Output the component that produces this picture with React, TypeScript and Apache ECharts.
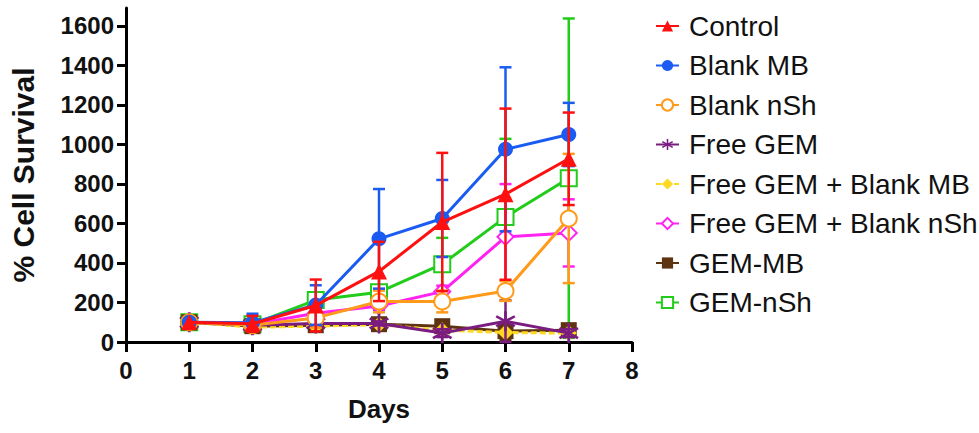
import React, { useEffect, useRef } from "react";
import * as echarts from "echarts";

const days = [1, 2, 3, 4, 5, 6, 7];
const yTicks = [0, 200, 400, 600, 800, 1000, 1200, 1400, 1600];

const controlMean = [100, 92, 185, 357, 607, 748, 927];
const controlSD = [0, 40, 131, 150, 350, 433, 234];
const blankMBMean = [100, 98, 187, 522, 625, 975, 1050];
const blankMBSD = [0, 45, 100, 252, 195, 415, 160];
const blankNShMean = [100, 85, 122, 205, 205, 258, 625];
const blankNShSD = [0, 20, 50, 55, 55, 50, 327];
const freeGEMMean = [100, 85, 94, 94, 45, 105, 45];
const freeGEMSD = [0, 10, 10, 10, 20, 105, 20];
const freeGEMBlankMBMean = [100, 75, 80, 88, 60, 48, 45];
const freeGEMBlankMBSD = [0, 0, 0, 0, 0, 0, 0];
const freeGEMBlankNShMean = [100, 90, 145, 182, 255, 532, 552];
const freeGEMBlankNShSD = [0, 10, 20, 20, 30, 267, 170];
const gemMBMean = [100, 80, 85, 90, 80, 55, 60];
const gemMBSD = [0, 10, 10, 10, 10, 45, 10];
const gemNShMean = [100, 90, 212, 252, 394, 632, 829];
const gemNShSD = [0, 15, 30, 30, 133, 396, 808];

const asterisk =
  "path://M-1.3,-10L1.3,-10L1.3,10L-1.3,10Z" +
  "M-9.3,-3.9L-8,-6.1L9.3,3.9L8,6.1Z" +
  "M8,-6.1L9.3,-3.9L-8,6.1L-9.3,3.9Z";

const groups = [
  { name: "Control", mean: controlMean, sd: controlSD, color: "#FF1010", symbol: "triangle", size: 16, empty: false, dashed: false },
  { name: "Blank MB", mean: blankMBMean, sd: blankMBSD, color: "#1A5CF2", symbol: "circle", size: 15, empty: false, dashed: false },
  { name: "Blank nSh", mean: blankNShMean, sd: blankNShSD, color: "#FF9A1A", symbol: "emptyCircle", size: 16, empty: true, dashed: false },
  { name: "Free GEM", mean: freeGEMMean, sd: freeGEMSD, color: "#7B1C80", symbol: asterisk, size: 20, empty: false, dashed: false },
  { name: "Free GEM + Blank MB", mean: freeGEMBlankMBMean, sd: freeGEMBlankMBSD, color: "#FFD820", symbol: "diamond", size: 16, empty: false, dashed: true },
  { name: "Free GEM + Blank nSh", mean: freeGEMBlankNShMean, sd: freeGEMBlankNShSD, color: "#FF22F0", symbol: "emptyDiamond", size: 16, empty: true, dashed: false },
  { name: "GEM-MB", mean: gemMBMean, sd: gemMBSD, color: "#5E3310", symbol: "rect", size: 16, empty: false, dashed: false },
  { name: "GEM-nSh", mean: gemNShMean, sd: gemNShSD, color: "#22CC1A", symbol: "emptyRect", size: 16, empty: true, dashed: false },
];

const FONT = "'Liberation Sans', Arial, Helvetica, sans-serif";

function buildOption() {
  const n = groups.length;
  const series: any[] = [];
  groups.forEach((g, i) => {
    const zBase = 10 + (n - i) * 3;
    const errData = days
      .map((d, k) => [d, g.mean[k] - g.sd[k], g.mean[k] + g.sd[k], g.sd[k]])
      .filter((r) => r[3] > 0)
      .map((r) => [r[0], Math.max(r[1], 0), r[2]]);
    series.push({
      name: g.name + " SD",
      type: "custom",
      z: zBase,
      silent: true,
      encode: { x: 0, y: [1, 2] },
      data: errData,
      renderItem: (params: any, api: any) => {
        const x = api.value(0);
        const lo = api.coord([x, api.value(1)]);
        const hi = api.coord([x, api.value(2)]);
        const hw = 6;
        const style = { stroke: g.color, lineWidth: 2.5 };
        return {
          type: "group",
          children: [
            { type: "line", shape: { x1: hi[0], y1: hi[1], x2: lo[0], y2: lo[1] }, style },
            { type: "line", shape: { x1: hi[0] - hw, y1: hi[1], x2: hi[0] + hw, y2: hi[1] }, style },
            { type: "line", shape: { x1: lo[0] - hw, y1: lo[1], x2: lo[0] + hw, y2: lo[1] }, style },
          ],
        };
      },
    });
    series.push({
      name: g.name,
      type: "line",
      z: zBase + 1,
      data: days.map((d, k) => [d, g.mean[k]]),
      symbol: g.symbol,
      symbolSize: g.size,
      showSymbol: true,
      lineStyle: { color: g.color, width: 3, type: g.dashed ? [6, 3] : "solid" },
      itemStyle: g.empty
        ? { color: g.color, borderColor: g.color, borderWidth: 2.8 }
        : { color: g.color, borderWidth: 0 },
    });
  });

  return {
    animation: false,
    backgroundColor: "#ffffff",
    textStyle: { fontFamily: FONT },
    grid: { left: 126, right: 347, top: 8, bottom: 91, containLabel: false, outerBoundsMode: "none" },
    legend: {
      orient: "vertical",
      left: 650,
      top: 7,
      itemWidth: 23,
      itemHeight: 14,
      itemGap: 11.5,
      data: groups.map((g) => g.name),
      textStyle: { fontFamily: FONT, fontSize: 28, color: "#111", lineHeight: 28, padding: [0, 0, 0, 5] },
      selectedMode: false,
    },
    xAxis: {
      type: "value",
      min: 0,
      max: 8,
      interval: 1,
      name: "Days",
      nameLocation: "middle",
      nameGap: 54,
      nameTextStyle: { fontFamily: FONT, fontSize: 26, fontWeight: "bold", color: "#111" },
      axisLine: { show: true, onZero: false, lineStyle: { color: "#000", width: 3 } },
      axisTick: { show: true, inside: false, length: 10, lineStyle: { color: "#000", width: 3 } },
      axisLabel: { fontFamily: FONT, fontSize: 24, fontWeight: "bold", color: "#111", margin: 16 },
      splitLine: { show: false },
    },
    yAxis: {
      type: "value",
      min: 0,
      max: 1690,
      interval: 200,
      name: "% Cell Survival",
      nameLocation: "middle",
      nameGap: 88,
      nameTextStyle: { fontFamily: FONT, fontSize: 30, fontWeight: "bold", color: "#111" },
      axisLine: { show: true, onZero: false, lineStyle: { color: "#000", width: 3 } },
      axisTick: { show: true, inside: false, length: 9, lineStyle: { color: "#000", width: 3 }, customValues: yTicks },
      axisLabel: {
        fontFamily: FONT,
        fontSize: 24,
        fontWeight: "bold",
        color: "#111",
        margin: 12,
        customValues: yTicks,
        formatter: (v: number) => String(v),
      },
      splitLine: { show: false },
    },
    series,
  };
}

export default function App() {
  const ref = useRef<HTMLDivElement>(null);
  useEffect(() => {
    const chart = echarts.init(ref.current!, null, { renderer: "svg" });
    chart.setOption(buildOption() as any);
    return () => chart.dispose();
  }, []);
  return (
    <div
      ref={ref}
      style={{ position: "fixed", left: 0, top: 0, width: 979, height: 433, background: "#fff" }}
    />
  );
}
